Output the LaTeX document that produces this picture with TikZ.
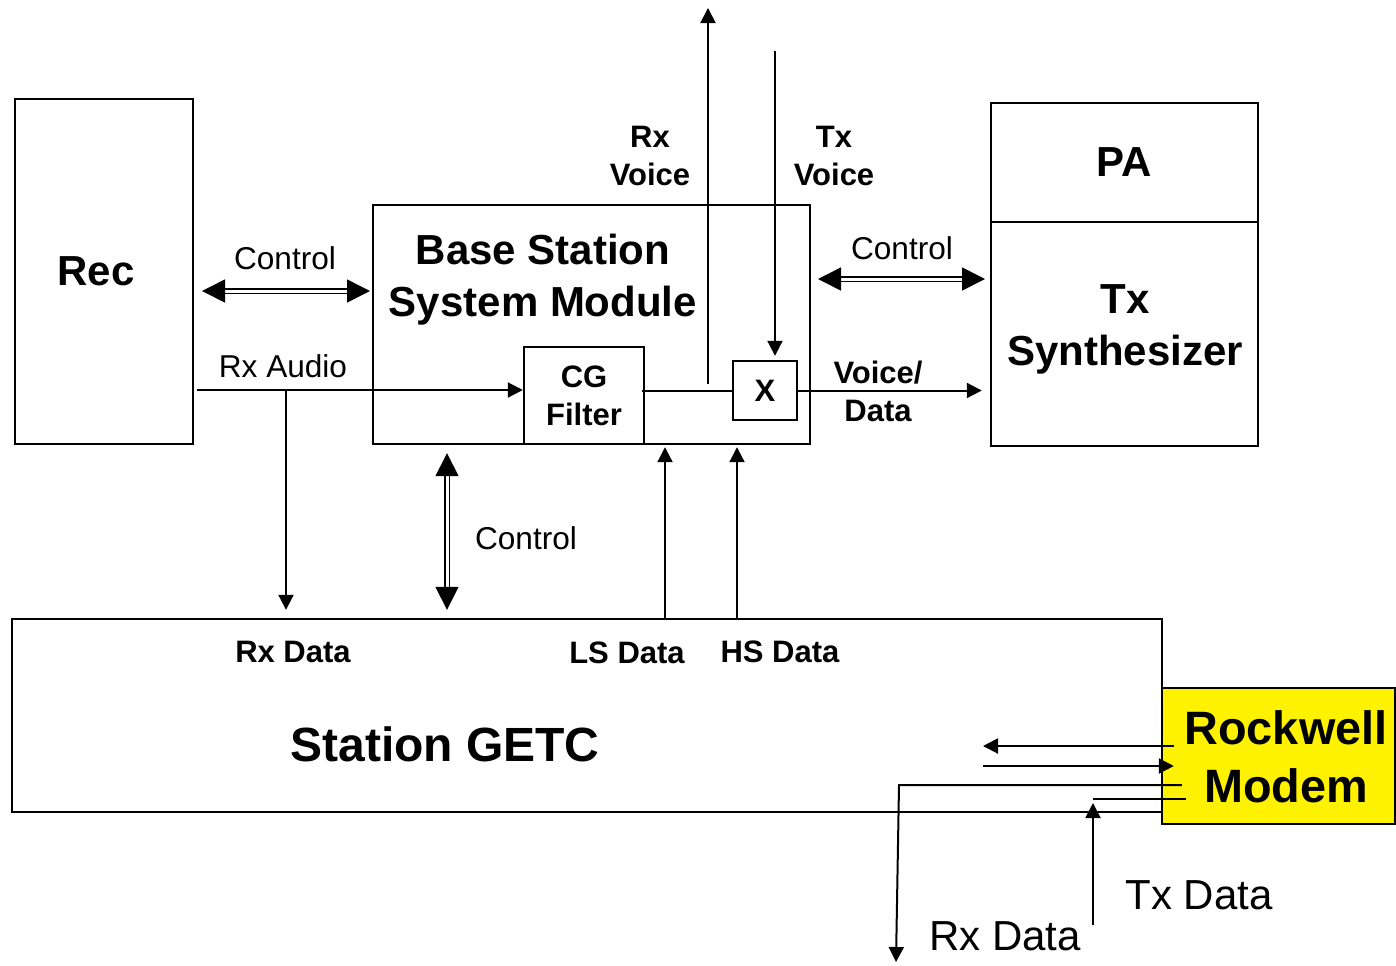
\documentclass[tikz,border=0pt]{standalone}
\usepackage{fontspec}
\setmainfont{Liberation Sans}
\usetikzlibrary{arrows.meta}

\begin{document}
\begin{tikzpicture}[x=0.5pt,y=-0.5pt,line width=1pt,
  box/.style={draw,line width=1.2pt,inner sep=0pt,align=center},
  big/.style={font=\fontsize{21}{26}\selectfont\bfseries,align=center},
  mid/.style={font=\fontsize{15.5}{19}\selectfont\bfseries,align=center},
  sm/.style={font=\fontsize{15.8}{19}\selectfont},
  arr/.style={-{Triangle[length=7.5pt,width=7.5pt]}},
  dbl/.style={double,double distance=1.5pt,line width=0.8pt,
    {Triangle[length=11.5pt,width=11.5pt]}-{Triangle[length=11.5pt,width=11.5pt]}}]
  \useasboundingbox (0,0) rectangle (1396,965);

  % blocks
  \node[box,minimum width=89pt,minimum height=172.5pt] (rec) at (104,271.5) {};
  \node[big] (rectext) at (96,271) {Rec};
  \node[box,minimum width=218.5pt,minimum height=119.5pt] (bss) at (591.5,324.5) {};
  \node[big] (bsstext) at (543,280) {Base Station\\System Module};
  \node[box,mid,minimum width=60pt,minimum height=48.5pt] (cg) at (584,395.5) {CG\\Filter};
  \node[box,mid,minimum width=32pt,minimum height=29.5pt] (xm) at (765,390.5) {X};
  \node[box,big,minimum width=133.5pt,minimum height=59.5pt] (pa) at (1124.5,162.5) {PA};
  \node[box,minimum width=133.5pt,minimum height=112pt] (synth) at (1124.5,334) {};
  \node[big] (synthtext) at (1125,329) {Tx\\Synthesizer};
  \node[box,minimum width=575pt,minimum height=96.5pt] (getc) at (587,715.5) {};
  \node[font=\fontsize{24}{28}\selectfont\bfseries] (getctext) at (445,744) {Station GETC};
  \node[box,fill=yellow,minimum width=116.5pt,minimum height=68pt] (modem) at (1278.5,756) {};
  \node[font=\fontsize{23.4}{29}\selectfont\bfseries,align=center] (modemtext) at (1286,757) {Rockwell\\Modem};

  % free ends
  \coordinate (audio) at (286,390);
  \coordinate (rxv) at (708,384);
  \coordinate (rxvtop) at (708,8);
  \coordinate (txv) at (775,51);
  \coordinate (ctlv) at (447,0);
  \coordinate (ls) at (665,0);
  \coordinate (hs) at (737,0);
  \coordinate (ctla) at (202,291);
  \coordinate (ctlb) at (370,291);
  \coordinate (ctlc) at (818,279);
  \coordinate (ctld) at (985,279);
  \coordinate (mdin) at (983,746);
  \coordinate (mdout) at (983,766);
  \coordinate (rxd) at (899,785);
  \coordinate (rxdend) at (896,962);
  \coordinate (txd) at (1093,799);
  \coordinate (txdend) at (1093,925);

  % connectors
  \draw[dbl] (ctla) -- (ctlb);
  \draw[dbl] (ctlc) -- (ctld);
  \draw[dbl,shorten <=4pt,shorten >=4pt] (ctlv |- bss.south) -- (ctlv |- getc.north);
  \draw[arr] ([xshift=1.5pt]rec.east |- audio) -- (cg.west |- audio);
  \draw[arr,shorten >=4pt] (audio) -- (audio |- getc.north);
  \draw[arr] (rxv) -- (rxvtop);
  \draw ([xshift=-1.5pt]cg.east |- xm.west) -- (xm.west);
  \draw[arr,shorten >=2pt] (txv) -- (txv |- xm.north);
  \draw[arr,shorten >=4pt] (xm.east) -- (xm.east -| synth.west);
  \draw[arr,shorten >=1pt] (ls |- getc.north) -- (ls |- bss.south);
  \draw[arr,shorten >=1pt] (hs |- getc.north) -- (hs |- bss.south);
  \draw[arr] ([xshift=6.5pt]modem.west |- mdin) -- (mdin);
  \draw[arr] (mdout) -- ([xshift=6.5pt]modem.west |- mdout);
  \draw[arr] ([xshift=10.5pt]modem.west |- rxd) -- (rxd) -- (rxdend);
  \draw ([xshift=12.5pt]modem.west |- txd) -- (txd);
  \draw[arr,shorten >=2pt] (txdend) -- (txd);

  % labels
  \node[sm] (lctla) at (285,258) {Control};
  \node[sm] (lctlb) at (902,248) {Control};
  \node[sm] (lctlc) at (526,538) {Control};
  \node[sm] (laudio) at (283,366) {Rx Audio};
  \node[mid] (lrxv) at (650,156) {Rx\\Voice};
  \node[mid] (ltxv) at (834,156) {Tx\\Voice};
  \node[mid] (lvd) at (878,391) {Voice/\\Data};
  \node[mid] (lrx) at (293,652) {Rx Data};
  \node[mid] (lls) at (627,653) {LS Data};
  \node[mid] (lhs) at (780,652) {HS Data};
  \node[font=\fontsize{21}{25}\selectfont] (lrxd) at (1005,936) {Rx Data};
  \node[font=\fontsize{21}{25}\selectfont] (ltxd) at (1199,895) {Tx Data};
\end{tikzpicture}
\end{document}
